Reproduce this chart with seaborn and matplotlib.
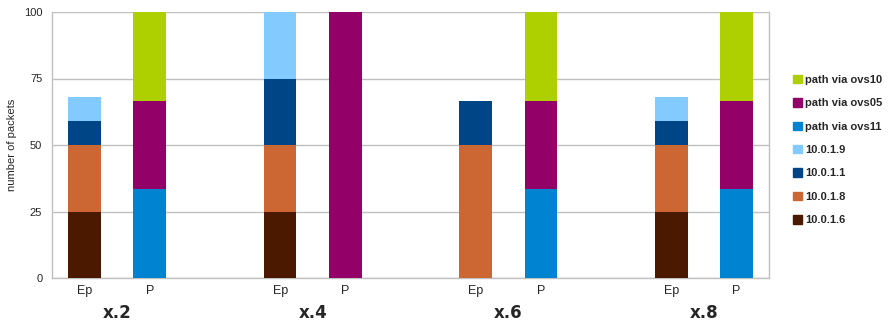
import matplotlib
matplotlib.use('Agg')
import matplotlib.pyplot as plt
import matplotlib.patches as mpatches
from matplotlib.transforms import blended_transform_factory
import seaborn as sns
import pandas as pd
import numpy as np

# категории по оси x (пустые слоты - промежутки между группами)
slots = ['x.2 Ep', 'x.2 P', 'gap1', 'x.4 Ep', 'x.4 P', 'gap2',
         'x.6 Ep', 'x.6 P', 'gap3', 'x.8 Ep', 'x.8 P']
slot_labels = ['Ep', 'P', '', 'Ep', 'P', '', 'Ep', 'P', '', 'Ep', 'P']
groups = ['x.2', 'x.4', 'x.6', 'x.8']

# значения серий по слотам (снизу вверх)
ip_10_0_1_6 = [25, 0, 0, 25, 0, 0, 0, 0, 0, 25, 0]
ip_10_0_1_8 = [25, 0, 0, 25, 0, 0, 50, 0, 0, 25, 0]
ip_10_0_1_1 = [9, 0, 0, 25, 0, 0, 16.7, 0, 0, 9, 0]
ip_10_0_1_9 = [9, 0, 0, 25, 0, 0, 0, 0, 0, 9, 0]
via_ovs11 = [0, 33.3, 0, 0, 0, 0, 0, 33.3, 0, 0, 33.3]
via_ovs05 = [0, 33.3, 0, 0, 100, 0, 0, 33.3, 0, 0, 33.3]
via_ovs10 = [0, 33.4, 0, 0, 0, 0, 0, 33.4, 0, 0, 33.4]

series_names = ['10.0.1.6', '10.0.1.8', '10.0.1.1', '10.0.1.9',
                'path via ovs11', 'path via ovs05', 'path via ovs10']
series_values = [ip_10_0_1_6, ip_10_0_1_8, ip_10_0_1_1, ip_10_0_1_9,
                 via_ovs11, via_ovs05, via_ovs10]
colors = ['#4b1900', '#cc6633', '#004586', '#83caff',
          '#0084d1', '#930067', '#aecf00']

grid_color = '#c0c0c0'

sns.set_style('white')
plt.rcParams['font.family'] = ['Liberation Sans', 'DejaVu Sans']

fig = plt.figure(figsize=(8.89, 3.25), dpi=100)
ax = fig.add_axes([52 / 889, 47 / 325, 717 / 889, 266 / 325])

# накопленные суммы: рисуем сверху вниз, нижние серии перекрывают верхние
df = pd.DataFrame(dict(zip(series_names, series_values)), index=slots)
cum = df.cumsum(axis=1)
for name, color in reversed(list(zip(series_names, colors))):
    d = pd.DataFrame({'slot': slots, 'value': cum[name].values})
    sns.barplot(data=d, x='slot', y='value', order=slots, color=color,
                width=0.5, saturation=1, ax=ax, zorder=3, linewidth=0)

ax.set_xlim(-0.5, len(slots) - 0.5)
ax.set_ylim(0, 100)
ax.set_yticks([0, 25, 50, 75, 100])
ax.yaxis.grid(True, color=grid_color, linewidth=1.0, zorder=0)
ax.set_axisbelow(True)

# разделители категорий снизу
ax.set_xticks(np.arange(-0.5, len(slots), 1.0))
ax.set_xticklabels([])
ax.tick_params(axis='x', which='major', length=17, width=1.0, color=grid_color)
ax.set_xticks(np.arange(len(slots)), minor=True)
ax.set_xticklabels(slot_labels, minor=True, fontsize=9)
ax.tick_params(axis='x', which='minor', length=0, pad=5)
ax.tick_params(axis='y', length=5, width=1.0, color=grid_color, labelsize=8, pad=2)

for side in ['left', 'right', 'bottom']:
    ax.spines[side].set_color(grid_color)
    ax.spines[side].set_linewidth(1.0)
ax.spines['top'].set_visible(False)

ax.set_xlabel('')
ax.set_ylabel('number of packets', fontsize=8, labelpad=5)

trans = blended_transform_factory(ax.transData, ax.transAxes)
for i, g in enumerate(groups):
    ax.text(i * 3 + 0.5, -0.132, g, transform=trans, ha='center', va='center',
            fontsize=12, fontweight='bold', family=['DejaVu Sans'])

handles = [mpatches.Patch(color=c, label=n) for n, c in zip(series_names, colors)]
leg = fig.legend(handles=handles[::-1], loc='center left', bbox_to_anchor=(783 / 889, 1 - 150 / 325),
                 frameon=False, prop={'weight': 'bold', 'size': 8},
                 handlelength=0.8, handleheight=0.8, handletextpad=0.3, labelspacing=1.2)

plt.savefig('out.png', dpi=100)
plt.close()
